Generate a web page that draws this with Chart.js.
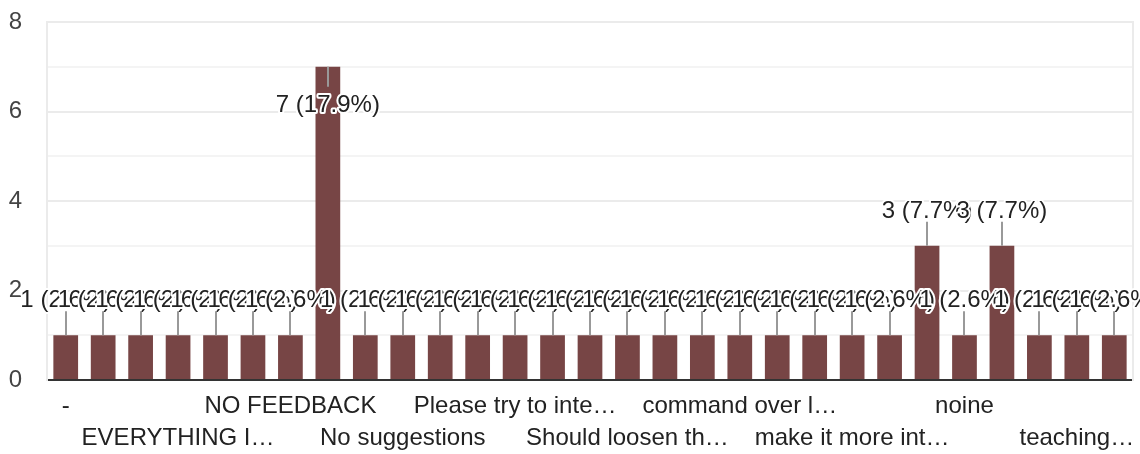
<!DOCTYPE html>
<html>
<head>
<meta charset="utf-8">
<title>Feedback responses</title>
<script src="https://cdn.jsdelivr.net/npm/chart.js@4.4.0/dist/chart.umd.min.js"></script>
<style>
  html, body { margin: 0; padding: 0; background: #ffffff; }
  #wrap { width: 1140px; height: 454px; position: relative; }
</style>
</head>
<body>
<div id="wrap"><canvas id="feedbackChart"></canvas></div>
<script>
// answers, sorted the way the form sorts them
const categories = [
  "-", ".", "Best", "EVERYTHING I…", "Excellent", "Good",
  "NO FEEDBACK", "Nil", "No", "No suggestions", "Nothing", "Nothing to say",
  "Please try to inte…", "Provide more examples", "Satisfied", "Should loosen th…",
  "Very good", "all good", "command over l…", "good", "it's good",
  "make it more int…", "nice", "nil", "noine", "none", "nothing",
  "teaching…", "very good"
];
const responses = [
  1, 1, 1, 1, 1, 1,
  1, 7, 1, 1, 1, 1,
  1, 1, 1, 1,
  1, 1, 1, 1, 1,
  1, 1, 3, 1, 3, 1,
  1, 1
];
const yTickLabels = [0, 2, 4, 6, 8];
const labelEvery = 3;

const FONT = 'Arial, "Liberation Sans", sans-serif';
const total = responses.reduce((a, b) => a + b, 0);

// value labels with a stem, drawn one after another so later halos cut earlier text
const barLabels = {
  id: "barLabels",
  afterDatasetsDraw(chart) {
    const { ctx, chartArea } = chart;
    const meta = chart.getDatasetMeta(0);
    ctx.save();
    ctx.font = "24px " + FONT;
    ctx.textAlign = "center";
    ctx.textBaseline = "alphabetic";
    ctx.lineJoin = "round";
    meta.data.forEach(function (bar, i) {
      const v = responses[i];
      const text = v + " (" + ((v / total) * 100).toFixed(1) + "%)";
      const x = Math.round(bar.x);
      const top = bar.y;
      const inside = top - 48 < chartArea.top;
      const stemEnd = inside ? top + 20 : top - 24;
      const baseline = inside ? top + 45 : top - 28;

      ctx.strokeStyle = "#999999";
      ctx.lineWidth = 2;
      ctx.beginPath();
      ctx.moveTo(x, top);
      ctx.lineTo(x, stemEnd);
      ctx.stroke();

      ctx.strokeStyle = "#ffffff";
      ctx.lineWidth = 4;
      ctx.strokeText(text, bar.x, baseline);
      ctx.fillStyle = "#222222";
      ctx.fillText(text, bar.x, baseline);
    });
    ctx.restore();
  }
};

function noVerticalPadding(scale) {
  scale.paddingTop = 0;
  scale.paddingBottom = 0;
}

const ctx = document.getElementById("feedbackChart").getContext("2d");

new Chart(ctx, {
  type: "bar",
  data: {
    labels: categories,
    datasets: [{
      data: responses,
      backgroundColor: "#774545",
      borderWidth: 0,
      categoryPercentage: 1,
      barPercentage: 0.66
    }]
  },
  options: {
    responsive: true,
    maintainAspectRatio: false,
    animation: false,
    layout: { padding: { top: 22, right: 7, left: 0, bottom: 0 } },
    plugins: {
      legend: { display: false },
      tooltip: { enabled: false }
    },
    scales: {
      x: {
        grid: { display: false, drawTicks: false },
        border: { display: false },
        ticks: {
          autoSkip: false,
          maxRotation: 0,
          minRotation: 0,
          padding: 11,
          color: "#222222",
          font: { family: FONT, size: 24, lineHeight: 1.32 },
          callback: function (value, index) {
            if (index % labelEvery !== 0) return "";
            const row = (index / labelEvery) % 2;
            return row === 0 ? [categories[index], ""] : ["", categories[index]];
          }
        },
        afterFit: function (scale) { scale.height = 74; }
      },
      y: {
        min: 0,
        max: 8,
        grid: {
          lineWidth: 2,
          drawTicks: false,
          color: function (c) {
            const v = c.tick.value;
            if (v === 0) return "#333333";
            return v % 2 ? "#f4f4f4" : "#ebebeb";
          }
        },
        border: { display: true, color: "#ebebeb", width: 2 },
        ticks: {
          stepSize: 1,
          autoSkip: false,
          padding: 25,
          color: "#444444",
          font: { family: FONT, size: 24 },
          callback: function (value) {
            return yTickLabels.includes(value) ? String(value) : "";
          }
        },
        afterFit: function (scale) {
          scale.width = 47;
          noVerticalPadding(scale);
        }
      },
      yRight: {
        position: "right",
        display: true,
        grid: { drawOnChartArea: false, drawTicks: false },
        border: { display: true, color: "#ebebeb", width: 2 },
        ticks: { display: false },
        afterFit: function (scale) {
          scale.width = 0;
          noVerticalPadding(scale);
        }
      }
    }
  },
  plugins: [barLabels]
});
</script>
</body>
</html>
